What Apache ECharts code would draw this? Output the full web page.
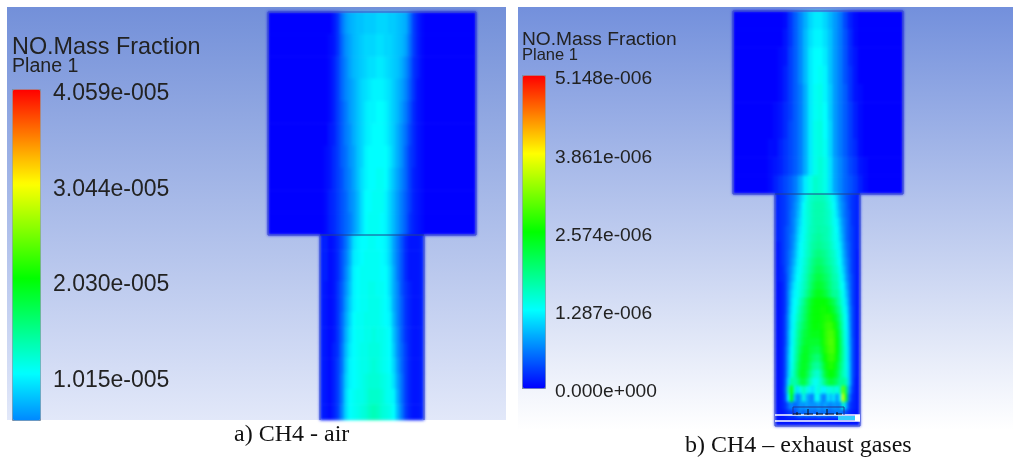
<!DOCTYPE html>
<html><head><meta charset="utf-8">
<style>html,body{margin:0;padding:0;background:#fff}#c{width:1013px;height:460px}
#c canvas:nth-of-type(2){filter:blur(1.6px)}
#c canvas:nth-of-type(3){filter:blur(0.45px)}</style>
<script src="https://cdn.jsdelivr.net/npm/echarts@6/dist/echarts.min.js"></script>
</head><body><div id="c"></div>
<script>
// Field values: percent of each panel's colour-scale maximum.
const rowsAUpper = [
[0,0,0,0,0,0,0,0,0,0,0,0,0,0,0,0,2,5,11,15,17,18,19,19,20,20,20,21,21,21,20,20,19,18,17,12,6,3,1,0,0,0,0,0,0,0,0,0,0,0,0,0],
[0,0,0,0,0,0,0,0,0,0,0,0,0,0,0,1,2,5,10,14,16,18,19,20,21,21,21,22,22,21,21,20,19,18,16,11,6,3,1,0,0,0,0,0,0,0,0,0,0,0,0,0],
[0,0,0,0,0,0,0,0,0,0,0,0,0,0,0,1,3,6,10,13,16,18,19,20,21,22,22,23,23,22,21,20,19,17,14,10,5,3,1,0,0,0,0,0,0,0,0,0,0,0,0,0],
[0,0,0,0,0,0,0,0,0,0,0,0,0,0,0,1,3,6,10,13,15,17,19,21,22,23,24,24,24,23,22,20,18,16,13,9,5,2,1,0,0,0,0,0,0,0,0,0,0,0,0,0],
[0,0,0,0,0,0,0,0,0,0,0,0,0,0,0,1,3,6,9,12,15,17,19,21,23,24,24,25,25,24,22,20,18,15,12,8,4,2,1,0,0,0,0,0,0,0,0,0,0,0,0,0],
[0,0,0,0,0,0,0,0,0,0,0,0,0,0,0,2,3,6,9,12,14,17,19,21,23,24,25,25,25,24,22,20,17,14,11,7,4,2,1,0,0,0,0,0,0,0,0,0,0,0,0,0],
[0,0,0,0,0,0,0,0,0,0,0,0,0,0,1,2,4,6,9,11,14,16,19,21,24,25,25,25,25,25,23,20,17,14,10,6,4,2,1,0,0,0,0,0,0,0,0,0,0,0,0,0],
[0,0,0,0,0,0,0,0,0,0,0,0,0,0,1,2,4,6,8,11,13,16,19,22,24,25,25,26,26,25,22,19,16,13,10,6,3,2,1,0,0,0,0,0,0,0,0,0,0,0,0,0],
[0,0,0,0,0,0,0,0,0,0,0,0,0,0,1,3,4,6,8,10,13,15,18,22,25,25,26,26,26,24,21,18,15,12,9,6,3,2,1,0,0,0,0,0,0,0,0,0,0,0,0,0],
[0,0,0,0,0,0,0,0,0,0,0,0,0,0,1,3,4,6,8,10,12,15,18,22,25,26,26,26,25,24,21,18,15,12,9,5,3,2,1,0,0,0,0,0,0,0,0,0,0,0,0,0]
];
const rowsALower = [
[3,3,1,2,4,7,11,16,22,24,25,25,26,26,25,25,24,21,16,12,8,4,2,2,2,3],
[3,3,1,2,4,8,12,17,23,24,25,26,26,26,26,25,24,21,16,12,8,4,2,2,2,3],
[3,3,1,2,4,8,13,18,24,25,26,26,26,26,26,25,25,22,17,12,8,4,2,2,2,3],
[3,2,1,2,5,9,14,19,24,25,26,26,27,27,26,26,25,22,17,13,8,5,3,2,2,3],
[3,2,1,2,5,9,15,20,24,25,26,26,27,27,27,26,25,23,17,13,9,5,3,2,2,3],
[3,2,1,2,5,10,16,21,25,26,26,27,27,27,27,26,25,24,18,13,9,5,3,2,2,3],
[3,2,1,2,5,10,17,22,25,26,26,27,27,28,27,27,26,25,19,14,9,5,3,2,2,3],
[3,2,1,3,5,11,18,23,25,26,27,27,28,28,28,27,26,25,20,14,10,6,3,2,2,3],
[3,2,1,3,6,11,19,24,25,26,27,27,28,29,28,27,26,25,21,15,10,6,3,2,2,3],
[3,2,1,3,6,12,20,24,25,26,27,28,29,29,29,28,27,26,22,16,11,6,3,2,2,3],
[3,2,1,3,6,12,21,25,26,27,27,28,30,30,30,29,27,26,24,17,11,6,3,2,2,3],
[3,2,1,3,6,13,21,25,26,27,28,29,31,32,31,29,28,27,25,18,12,6,3,2,2,3]
];
const rowsBUpper = [
[0,0,0,0,0,0,0,0,0,0,1,5,9,13,17,21,23,23,21,18,15,12,7,3,1,0,0,0,0,0,0,0,0,0],
[0,0,0,0,0,0,0,0,0,0,2,5,9,13,18,22,24,24,22,19,15,12,8,4,1,0,0,0,0,0,0,0,0,0],
[0,0,0,0,0,0,0,0,0,1,2,6,9,13,18,23,25,25,23,19,15,12,8,4,2,0,0,0,0,0,0,0,0,0],
[0,0,0,0,0,0,0,0,0,1,3,6,9,13,18,23,25,26,24,19,15,12,8,5,2,0,0,0,0,0,0,0,0,0],
[0,0,0,0,0,0,0,0,0,1,3,6,9,12,17,23,26,27,24,20,15,12,9,5,2,1,0,0,0,0,0,0,0,0],
[0,0,0,0,0,0,0,0,1,2,4,6,9,12,17,23,26,27,25,20,15,12,9,6,3,1,0,0,0,0,0,0,0,0],
[0,0,0,0,0,0,0,0,1,2,4,7,9,12,17,23,27,28,25,21,15,12,9,6,3,1,0,0,0,0,0,0,0,0],
[0,0,0,0,0,0,0,1,1,3,5,7,9,12,17,23,27,28,26,21,15,12,9,6,4,1,0,0,0,0,0,0,0,0],
[0,0,0,0,0,0,0,1,2,3,5,7,9,12,17,23,27,29,27,22,16,13,10,7,5,2,1,0,0,0,0,0,0,0],
[0,0,0,0,0,0,0,1,3,5,7,9,12,17,23,27,30,29,27,22,16,13,10,8,6,3,1,0,0,0,0,0,0,0]
];
const rowsBLower = [
[3,4,5,6,8,10,12,15,19,23,27,30,31,32,32,32,31,29,27,24,20,15,12,9,7,5,4,3],
[3,4,5,6,8,10,13,16,20,25,28,30,32,33,33,33,32,30,28,25,21,16,13,10,7,5,4,3],
[3,4,5,6,8,11,13,17,21,26,28,30,32,33,33,33,32,31,29,26,22,17,13,10,8,5,4,3],
[3,4,5,6,8,11,14,18,22,26,28,30,32,33,33,33,32,31,29,26,24,19,14,11,8,5,4,3],
[3,4,5,7,9,11,14,19,23,26,28,31,32,33,34,33,33,32,30,27,25,20,15,11,8,6,4,3],
[3,4,5,7,9,12,15,20,24,26,29,31,33,34,35,34,33,32,30,27,26,21,16,11,8,6,4,3],
[2,3,5,7,9,12,16,21,25,27,29,32,34,35,36,35,34,33,31,28,26,23,17,12,9,6,4,3],
[2,3,5,7,10,13,17,22,25,27,30,32,35,37,38,37,36,34,32,30,27,24,18,13,9,6,4,2],
[2,3,5,7,10,14,18,23,26,28,31,34,37,39,40,39,37,35,33,31,28,25,19,14,10,6,4,2],
[2,3,4,7,11,15,20,24,26,29,32,35,38,41,42,41,39,37,35,32,30,26,21,15,10,6,4,2],
[2,3,4,6,11,16,21,25,27,30,33,37,40,43,44,43,41,39,36,33,32,27,23,16,11,7,4,2],
[2,2,3,6,12,18,23,26,28,31,34,38,42,45,46,45,43,40,37,34,33,28,25,18,12,7,4,2],
[2,2,3,6,13,20,24,26,29,32,36,40,44,47,48,47,45,42,38,35,35,30,26,20,13,7,4,2],
[2,2,3,6,13,21,25,27,32,36,41,45,48,50,50,50,50,48,45,42,37,32,27,22,14,7,4,2],
[2,2,3,6,14,22,25,29,34,38,42,46,49,50,50,51,51,50,48,45,40,35,28,24,15,8,4,2],
[2,2,3,7,15,23,26,31,35,39,43,47,49,50,50,51,52,53,52,48,44,37,30,25,16,8,4,2],
[2,2,3,7,15,23,27,33,37,41,44,47,49,50,49,51,53,55,55,52,47,39,31,25,17,8,4,2],
[2,2,3,7,16,24,28,34,39,43,45,47,48,48,48,50,53,56,57,55,49,41,32,26,18,8,4,2],
[2,2,3,7,16,24,29,35,40,44,46,46,46,46,46,49,53,56,58,56,50,42,33,26,18,9,4,2],
[2,2,3,8,17,25,30,36,42,46,47,45,44,43,43,47,52,55,57,56,50,42,34,27,19,9,4,2],
[2,2,3,8,18,25,31,37,44,47,47,44,41,39,39,44,50,53,55,54,49,41,34,27,19,9,4,2],
[2,2,3,8,18,26,32,39,45,47,46,42,37,35,35,40,47,51,53,51,46,39,33,27,20,9,4,2],
[2,2,3,8,19,28,33,40,46,47,44,38,33,30,30,36,44,48,50,48,44,37,32,28,20,9,4,2],
[2,2,3,9,22,34,33,36,42,44,40,33,28,26,28,32,38,43,45,43,40,35,36,32,20,9,3,2],
[2,2,3,10,32,52,30,22,27,32,28,24,22,26,29,24,24,28,28,30,27,32,60,40,16,7,3,2],
[2,2,3,8,25,50,20,12,16,28,18,14,12,26,24,14,12,23,18,23,14,24,72,45,12,5,3,2],
[2,2,3,5,10,14,10,12,15,14,16,14,14,14,16,13,16,14,13,15,14,14,30,18,7,4,3,2],
[2,2,2,3,5,6,6,10,12,9,12,10,11,9,13,10,12,10,10,11,12,12,10,7,4,3,2,2],
[2,2,2,2,2,2,2,2,2,2,2,2,2,2,2,2,2,2,2,2,2,2,2,2,2,2,2,2]
];
// Legend ticks (panel a in 1e-8, panel b in 1e-9 mass fraction)
const ticksA = [1015, 2030, 3044, 4059];
const tickLabelsA = ['1.015e-005', '2.030e-005', '3.044e-005', '4.059e-005'];
const ticksB = [0, 1287, 2574, 3861, 5148];
const tickLabelsB = ['0.000e+000', '1.287e-006', '2.574e-006', '3.861e-006', '5.148e-006'];
const jet = ['#0000ff', '#00ffff', '#00ff00', '#ffff00', '#ff0000'];
const jetCropped = ['#0088ff','#00ffff','#00ff80','#00ff00','#80ff00','#ffff00','#ff8000','#ff0000'];
// Domain outlines and burner details
const outlineA = [[52,408],[52,223],[0,223],[0,0],[208,0],[208,223],[156,223],[156,408]];
const stepA = [[52,223],[156,223]];
const outlineB = [[42,415],[42,183],[0,183],[0,0],[170,0],[170,183],[127,183],[127,415],[42,415]];
const stepB = [[42,183],[127,183]];
const whiteLinesB = [[[42,404],[127,404]], [[42,410],[127,410]]];
const channelFlowB = [[105,407],[122,407]];
const channelEndB = [[122,407],[127,407]];
const burnerBox = [[60,404],[60,396],[111,396],[111,404]];
const burnerMarks = [[[60,403],[68,403]],[[71,403],[80,403]],[[83,403],[90,403]],[[92,403],[101,403]],[[103,403],[109,403]],[[75,398],[75,404]],[[94,398],[94,404]],[[64,401],[64,404]],[[84,401],[84,404]],[[104,401],[104,404]]];

const TOP = 2, HEAT = 1;
const cells = r => r.flatMap((row, y) => row.map((v, x) => [x, y, v]));
const idx = n => Array.from({length: n}, (_, i) => i);
const catX = (i, n) => ({type:'category', gridIndex:i, data:idx(n), show:false});
const catY = (i, n) => ({type:'category', gridIndex:i, data:idx(n), inverse:true, show:false});
const valX = (i, max) => ({type:'value', gridIndex:i, min:0, max, show:false});
const valY = (i, max) => ({type:'value', gridIndex:i, min:0, max, inverse:true, show:false});
const legendAxis = (i, min, max, tv, labels, size, lh, margin) => ({
  type:'value', gridIndex:i, position:'right', min, max, zlevel:TOP,
  axisLine:{show:false}, splitLine:{show:false},
  axisTick:{show:true, length:4, lineStyle:{color:'#7b8798'}, customValues:tv},
  axisLabel:{show:true, margin, fontFamily:'Liberation Sans', fontSize:size, color:'#222',
    verticalAlign:'top', lineHeight:lh, customValues:tv, showMinLabel:true, showMaxLabel:true,
    formatter:v => labels[tv.indexOf(v)]}
});
const hm = (i, rows) => ({type:'heatmap', zlevel:HEAT, xAxisIndex:i, yAxisIndex:i, data:cells(rows), silent:true, progressive:0, itemStyle:{borderWidth:0}, emphasis:{disabled:true}});
const ln = (i, data, color, width) => ({type:'line', zlevel:TOP, xAxisIndex:i, yAxisIndex:i, data, symbol:'none', silent:true, clip:false, z:5, lineStyle:{color, width}, animation:false});
const txt = (text, left, top, size, fam, color) => ({text, left, top, padding:0, zlevel:TOP, textStyle:{fontSize:size, fontWeight:'normal', fontFamily:fam, color}});
const sans = 'Liberation Sans', serif = 'Liberation Serif';

const option = {
  animation:false, backgroundColor:'#fff',
  graphic:{elements:[
    {type:'rect', z:-10, shape:{x:7,y:7,width:499,height:413}, style:{fill:{type:'linear',x:0,y:0,x2:0,y2:1,colorStops:[{offset:0,color:'#7390d9'},{offset:1,color:'#e2e8f9'}]}}},
    {type:'rect', z:-10, shape:{x:518,y:7,width:495,height:423}, style:{fill:{type:'linear',x:0,y:0,x2:0,y2:1,colorStops:[{offset:0,color:'#7390dc'},{offset:1,color:'#ffffff'}]}}}
  ]},
  title:[
    txt('NO.Mass Fraction',12,36,23.4,sans,'#222'),
    txt('Plane 1',12,57,19.6,sans,'#222'),
    txt('NO.Mass Fraction',522,30,19.2,sans,'#222'),
    txt('Plane 1',522,47,16.5,sans,'#222'),
    txt('a) CH4 - air',234,423,24,serif,'#111'),
    txt('b) CH4 – exhaust gases',685,434,24,serif,'#111')
  ],
  grid:[
    {left:268,top:12,width:208,height:223},
    {left:320,top:235,width:104,height:185},
    {left:733,top:11,width:170,height:183},
    {left:775,top:194,width:85,height:232},
    {left:268,top:12,width:208,height:408},
    {left:733,top:11,width:170,height:415},
    {left:12,top:89,width:28,height:331},
    {left:522,top:75,width:23,height:313}
  ],
  xAxis:[catX(0,52),catX(1,26),catX(2,34),catX(3,28),valX(4,208),valX(5,170),
    {type:'value',gridIndex:6,show:false},{type:'value',gridIndex:7,show:false}],
  yAxis:[catY(0,10),catY(1,12),catY(2,10),catY(3,29),valY(4,408),valY(5,415),
    legendAxis(6,542,4059,ticksA,tickLabelsA,23,10,13),
    legendAxis(7,0,5148,ticksB,tickLabelsB,19.2,8,10)],
  visualMap:[
    {type:'continuous',show:false,min:0,max:100,seriesIndex:[0,1],inRange:{color:jet}},
    {type:'continuous',show:false,min:0,max:100,seriesIndex:[2,3],inRange:{color:jet}},
    {type:'continuous',show:true,zlevel:TOP,min:13.35,max:100,seriesIndex:[],left:12,top:89,itemWidth:28,itemHeight:331,padding:0,text:null,showLabel:false,calculable:false,hoverLink:false,inRange:{color:jetCropped},borderColor:'#7b8fa5',borderWidth:1},
    {type:'continuous',show:true,zlevel:TOP,min:0,max:100,seriesIndex:[],left:522,top:75,itemWidth:23,itemHeight:313,padding:0,text:null,showLabel:false,calculable:false,hoverLink:false,inRange:{color:jet},borderColor:'#7b8fa5',borderWidth:1}
  ],
  series:[
    hm(0,rowsAUpper),hm(1,rowsALower),hm(2,rowsBUpper),hm(3,rowsBLower),
    ln(4,outlineA,'#3c50c8',1),ln(4,stepA,'#24408c',1),
    ln(5,outlineB,'#3c50c8',1),ln(5,stepB,'#24408c',1),
    ln(5,channelFlowB,'#33ccff',4),ln(5,channelEndB,'#ffffff',6),
    ...whiteLinesB.map(s=>ln(5,s,'#ffffff',1.5)),
    ln(5,burnerBox,'#223399',1),
    ...burnerMarks.map(s=>ln(5,s,'#0a0a20',1))
  ]
};
const chart = echarts.init(document.getElementById('c'), null, {renderer:'canvas'});
chart.setOption(option);
</script></body></html>
